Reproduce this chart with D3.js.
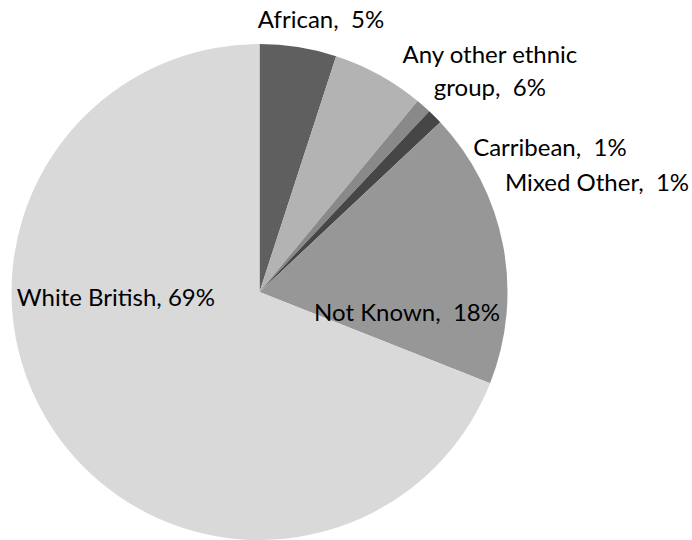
<!DOCTYPE html>
<html>
<head>
<meta charset="utf-8">
<script src="https://cdn.jsdelivr.net/npm/d3@7"></script>
<style>
  html, body { margin: 0; padding: 0; background: #ffffff; }
  svg { display: block; }
  text { font-family: Lato, Carlito, Calibri, "Open Sans", sans-serif; fill: #000; white-space: pre; }
</style>
</head>
<body>
<svg id="chart" width="692" height="540"></svg>
<script>
// Ethnicity breakdown (percent of total)
const categories = ["African", "Any other ethnic group", "Carribean", "Mixed Other", "Not Known", "White British"];
const shares = [5, 6, 1, 1, 18, 69];
const labelLines = [
  ["African,  5%"],
  ["Any other ethnic", "group,  6%"],
  ["Carribean,  1%"],
  ["Mixed Other,  1%"],
  ["Not Known,  18%"],
  ["White British, 69%"]
];

const sliceColors = ["#5f5f5f", "#b3b3b3", "#898989", "#464646", "#979797", "#d9d9d9"];

// label anchors, in units of the pie radius, relative to the pie centre
const labelOffsets = [
  [0.248, -1.097],
  [0.929, -0.889],
  [1.171, -0.581],
  [1.361, -0.440],
  [0.595, 0.085],
  [-0.579, 0.024]
];

const cx = 259.5, cy = 292, R = 248;
const fontSize = 24, lineGap = 33;

const svg = d3.select("#chart");
const g = svg.append("g").attr("transform", `translate(${cx},${cy})`);

const data = categories.map((c, i) => ({ name: c, value: shares[i], i }));

const pie = d3.pie().value(d => d.value).sort(null);
const arc = d3.arc().innerRadius(0).outerRadius(R);
const color = d3.scaleOrdinal().domain(categories).range(sliceColors);

g.selectAll("path.slice")
  .data(pie(data))
  .join("path")
  .attr("class", "slice")
  .attr("d", arc)
  .attr("fill", d => color(d.data.name));

const labels = g.selectAll("text.lbl")
  .data(data)
  .join("text")
  .attr("class", "lbl")
  .attr("text-anchor", "middle")
  .attr("xml:space", "preserve")
  .attr("font-size", fontSize)
  .attr("transform", d => `translate(${labelOffsets[d.i][0] * R},${labelOffsets[d.i][1] * R})`);

labels.each(function(d) {
  const lines = labelLines[d.i];
  const n = lines.length;
  d3.select(this).selectAll("tspan")
    .data(lines)
    .join("tspan")
    .attr("x", 0)
    .attr("y", (l, k) => (k - (n - 1) / 2) * lineGap)
    .attr("dy", "0.35em")
    .text(l => l);
});
</script>
</body>
</html>
